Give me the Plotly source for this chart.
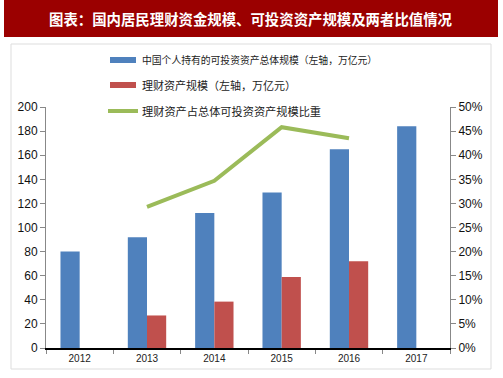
import plotly.graph_objects as go

years = ["2012", "2013", "2014", "2015", "2016", "2017"]
investable = [80, 92, 112, 129, 165, 184]
wealth = [None, 27, 38.5, 59, 72, None]
ratio = [None, 0.293, 0.347, 0.458, 0.435, None]
left_ticks = [0, 20, 40, 60, 80, 100, 120, 140, 160, 180, 200]
right_ticks = [0, 0.05, 0.10, 0.15, 0.20, 0.25, 0.30, 0.35, 0.40, 0.45, 0.50]
names = ["中国个人持有的可投资资产总体规模（左轴，万亿元）",
         "理财资产规模（左轴，万亿元）",
         "理财资产占总体可投资资产规模比重"]
title = "图表：国内居民理财资金规模、可投资资产规模及两者比值情况"

BLUE = "#4F81BD"
RED = "#C0504D"
GREEN = "#9BBB59"
CJK = "Noto Sans CJK SC"

fig = go.Figure()
fig.add_trace(go.Bar(x=years, y=investable, name=names[0], marker_color=BLUE,
                     marker_line_width=0, showlegend=False))
fig.add_trace(go.Bar(x=years, y=wealth, name=names[1], marker_color=RED,
                     marker_line_width=0, showlegend=False))
fig.add_trace(go.Scatter(x=years, y=ratio, name=names[2], yaxis="y2", mode="lines",
                         line=dict(color=GREEN, width=4), showlegend=False,
                         connectgaps=False))

W, H = 503, 378
ml, mr, mt, mb = 46, 53, 107, 30
pw = W - ml - mr
ph = H - mt - mb

def px2x(px):
    return (px - ml) / pw

def py2y(py):
    return (H - mb - py) / ph

shapes = []
annotations = []
# title banner
shapes.append(dict(type="rect", xref="paper", yref="paper",
                   x0=px2x(4), x1=px2x(498), y0=py2y(37), y1=py2y(0),
                   fillcolor="#9B0000", line_width=0, layer="below"))
annotations.append(dict(text="<b>" + title + "</b>", xref="paper", yref="paper",
                        x=px2x(251), y=py2y(18), xanchor="center", yanchor="middle",
                        showarrow=False, font=dict(family=CJK, size=14.4, color="white")))
# frame
shapes.append(dict(type="rect", xref="paper", yref="paper",
                   x0=px2x(11), x1=px2x(491), y0=py2y(369), y1=py2y(44),
                   fillcolor="rgba(0,0,0,0)", line=dict(color="#DDDDDD", width=1),
                   layer="below"))
# legend
leg_rows = [60, 85, 111]
shapes.append(dict(type="rect", xref="paper", yref="paper",
                   x0=px2x(110), x1=px2x(136), y0=py2y(63), y1=py2y(57),
                   fillcolor=BLUE, line_width=0))
shapes.append(dict(type="rect", xref="paper", yref="paper",
                   x0=px2x(110), x1=px2x(136), y0=py2y(88), y1=py2y(82),
                   fillcolor=RED, line_width=0))
shapes.append(dict(type="line", xref="paper", yref="paper",
                   x0=px2x(108), x1=px2x(138), y0=py2y(111), y1=py2y(111),
                   line=dict(color=GREEN, width=4)))
for nm, ry, fs in zip(names, leg_rows, [9.8, 11, 11.2]):
    annotations.append(dict(text=nm, xref="paper", yref="paper",
                            x=px2x(140), y=py2y(ry), xanchor="left", yanchor="middle",
                            showarrow=False, font=dict(family=CJK, size=fs, color="#222222")))

fig.update_layout(
    width=W, height=H,
    margin=dict(l=ml, r=mr, t=mt, b=mb),
    paper_bgcolor="white", plot_bgcolor="white",
    barmode="group", bargap=0.43, bargroupgap=0,
    font=dict(family="Arial, Liberation Sans", size=12, color="#111111"),
    xaxis=dict(type="category", showgrid=False, showline=True, linecolor="#000000",
               linewidth=1.5, ticks="outside", tickson="boundaries", ticklen=4,
               tickcolor="#888888", tickfont=dict(size=10, color="#222222")),
    yaxis=dict(range=[0, 200], tickvals=left_ticks, showgrid=False, showline=True,
               linecolor="#888888", ticks="outside", ticklen=5, tickcolor="#888888",
               tickfont=dict(size=12), zeroline=False),
    yaxis2=dict(range=[0, 0.5], tickvals=right_ticks, tickformat=".0%", overlaying="y",
                side="right", showgrid=False, showline=True, linecolor="#888888",
                ticks="outside", ticklen=5, tickcolor="#888888", tickfont=dict(size=12),
                zeroline=False),
    shapes=shapes, annotations=annotations, showlegend=False,
)

fig.write_html("out.html", config={"displayModeBar": False},
               post_script="document.body.style.margin='0';document.body.style.overflow='hidden';")
